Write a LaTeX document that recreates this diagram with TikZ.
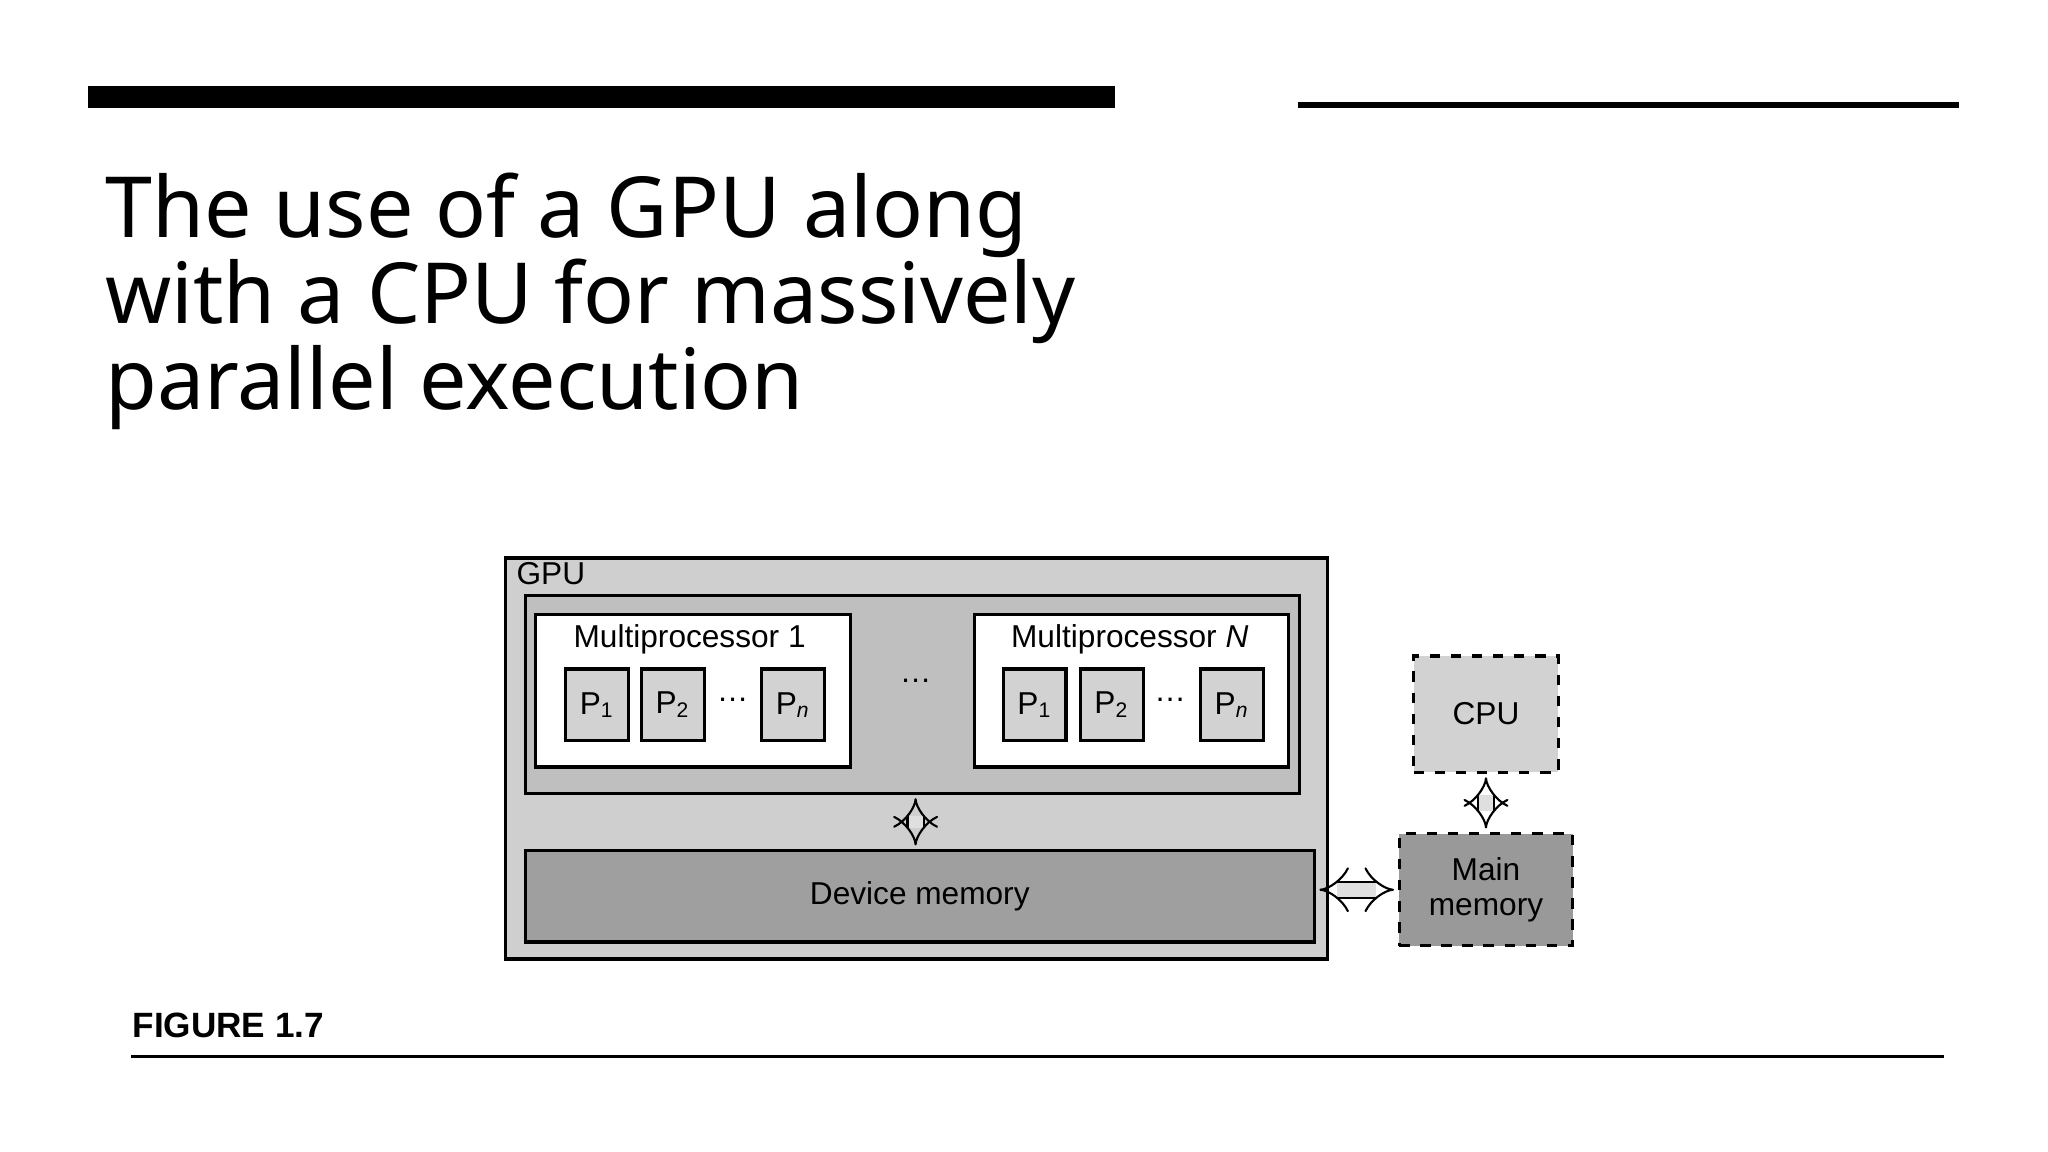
\documentclass[tikz,border=0pt]{standalone}
\usepackage{fontspec}
\setmainfont{Noto Sans}
\newfontfamily\figfont{Liberation Sans}
\usetikzlibrary{arrows.meta}
\newlength\pxu
\setlength\pxu{0.013061cm}
\tikzset{
  box/.style={draw=black, line width=0.9pt, inner sep=0pt, anchor=north west},
  dashbox/.style={box, dashed},
  pbox/.style={box, fill=gray!35, minimum width=48\pxu, minimum height=55\pxu},
  lbl/.style={font=\figfont\fontsize{9}{10}\selectfont, inner sep=0pt},
  hollow/.style={double=gray!25, double distance=4pt, line width=0.6pt,
    {Implies}-{Implies}, shorten <=1pt, shorten >=1pt},
}
\begin{document}
\begin{tikzpicture}[x=\pxu, y=-\pxu]
  \useasboundingbox (0,0) rectangle (1568,882);
  % header rules and title
  \fill (67,66) rectangle (854,83);
  \fill (994,78) rectangle (1500,83);
  \node[anchor=north west, align=left, inner sep=0pt,
    font=\bfseries\fontsize{24}{24.5}\selectfont] (title) at (80,132)
    {The use of a GPU along\\with a CPU for massively\\parallel execution};
  % GPU
  \node[box, fill=gray!38, minimum width=629\pxu, minimum height=307\pxu] (gpu) at (386,426) {};
  \node[lbl, anchor=north west] (gpulbl) at (395,430) {GPU};
  \node[box, fill=gray!50, minimum width=593\pxu, minimum height=151\pxu] (mps) at (401,455) {};
  \node[box, fill=white, minimum width=241\pxu, minimum height=117\pxu] (mpa) at (409,469) {};
  \node[box, fill=white, minimum width=240\pxu, minimum height=117\pxu] (mpb) at (745,469) {};
  \node[lbl, anchor=north] (mpalbl) at (528,478) {Multiprocessor 1};
  \node[lbl, anchor=north] (mpblbl) at (865,478) {Multiprocessor \textit{N}};
  \node[lbl] (mdots) at (701,521) {\dots};
  % processors
  \foreach \nm/\x/\t in {pa1/432/1, pa2/490/2, pan/582/\textit{n}, pb1/767/1, pb2/826/2, pbn/918/\textit{n}}
  {
    \node[pbox] (\nm) at (\x,511) {};
    \node[lbl] at (\nm.center) {P\textsubscript{\t}};
  }
  \node[lbl] (pdotsa) at (561,536) {\dots};
  \node[lbl] (pdotsb) at (896,536) {\dots};
  % memories and CPU
  \node[box, fill=gray!75, minimum width=604\pxu, minimum height=70\pxu] (dev) at (401,650) {};
  \node[lbl] (devlbl) at (dev.center) {Device memory};
  \node[dashbox, fill=gray!35, minimum width=111\pxu, minimum height=89\pxu] (cpu) at (1081,501) {};
  \node[lbl] (cpulbl) at (cpu.center) {CPU};
  \node[dashbox, fill=gray!80, minimum width=133\pxu, minimum height=86\pxu] (main) at (1070,637) {};
  \node[lbl, align=center] (mainlbl) at (main.center) {Main\\memory};
  % connectors
  \draw[hollow] (mps.south -| mdots) -- (dev.north -| mdots);
  \draw[hollow] (cpu.south) -- (main.north -| cpu.south);
  \draw[hollow] (dev.east |- main.center) -- (main.west);
  % caption
  \node[anchor=west, inner sep=0pt, font=\figfont\bfseries\fontsize{10}{12}\selectfont] (fig) at (101,785) {FIGURE 1.7};
  \fill (100,808) rectangle (1488,810);
\end{tikzpicture}
\end{document}
